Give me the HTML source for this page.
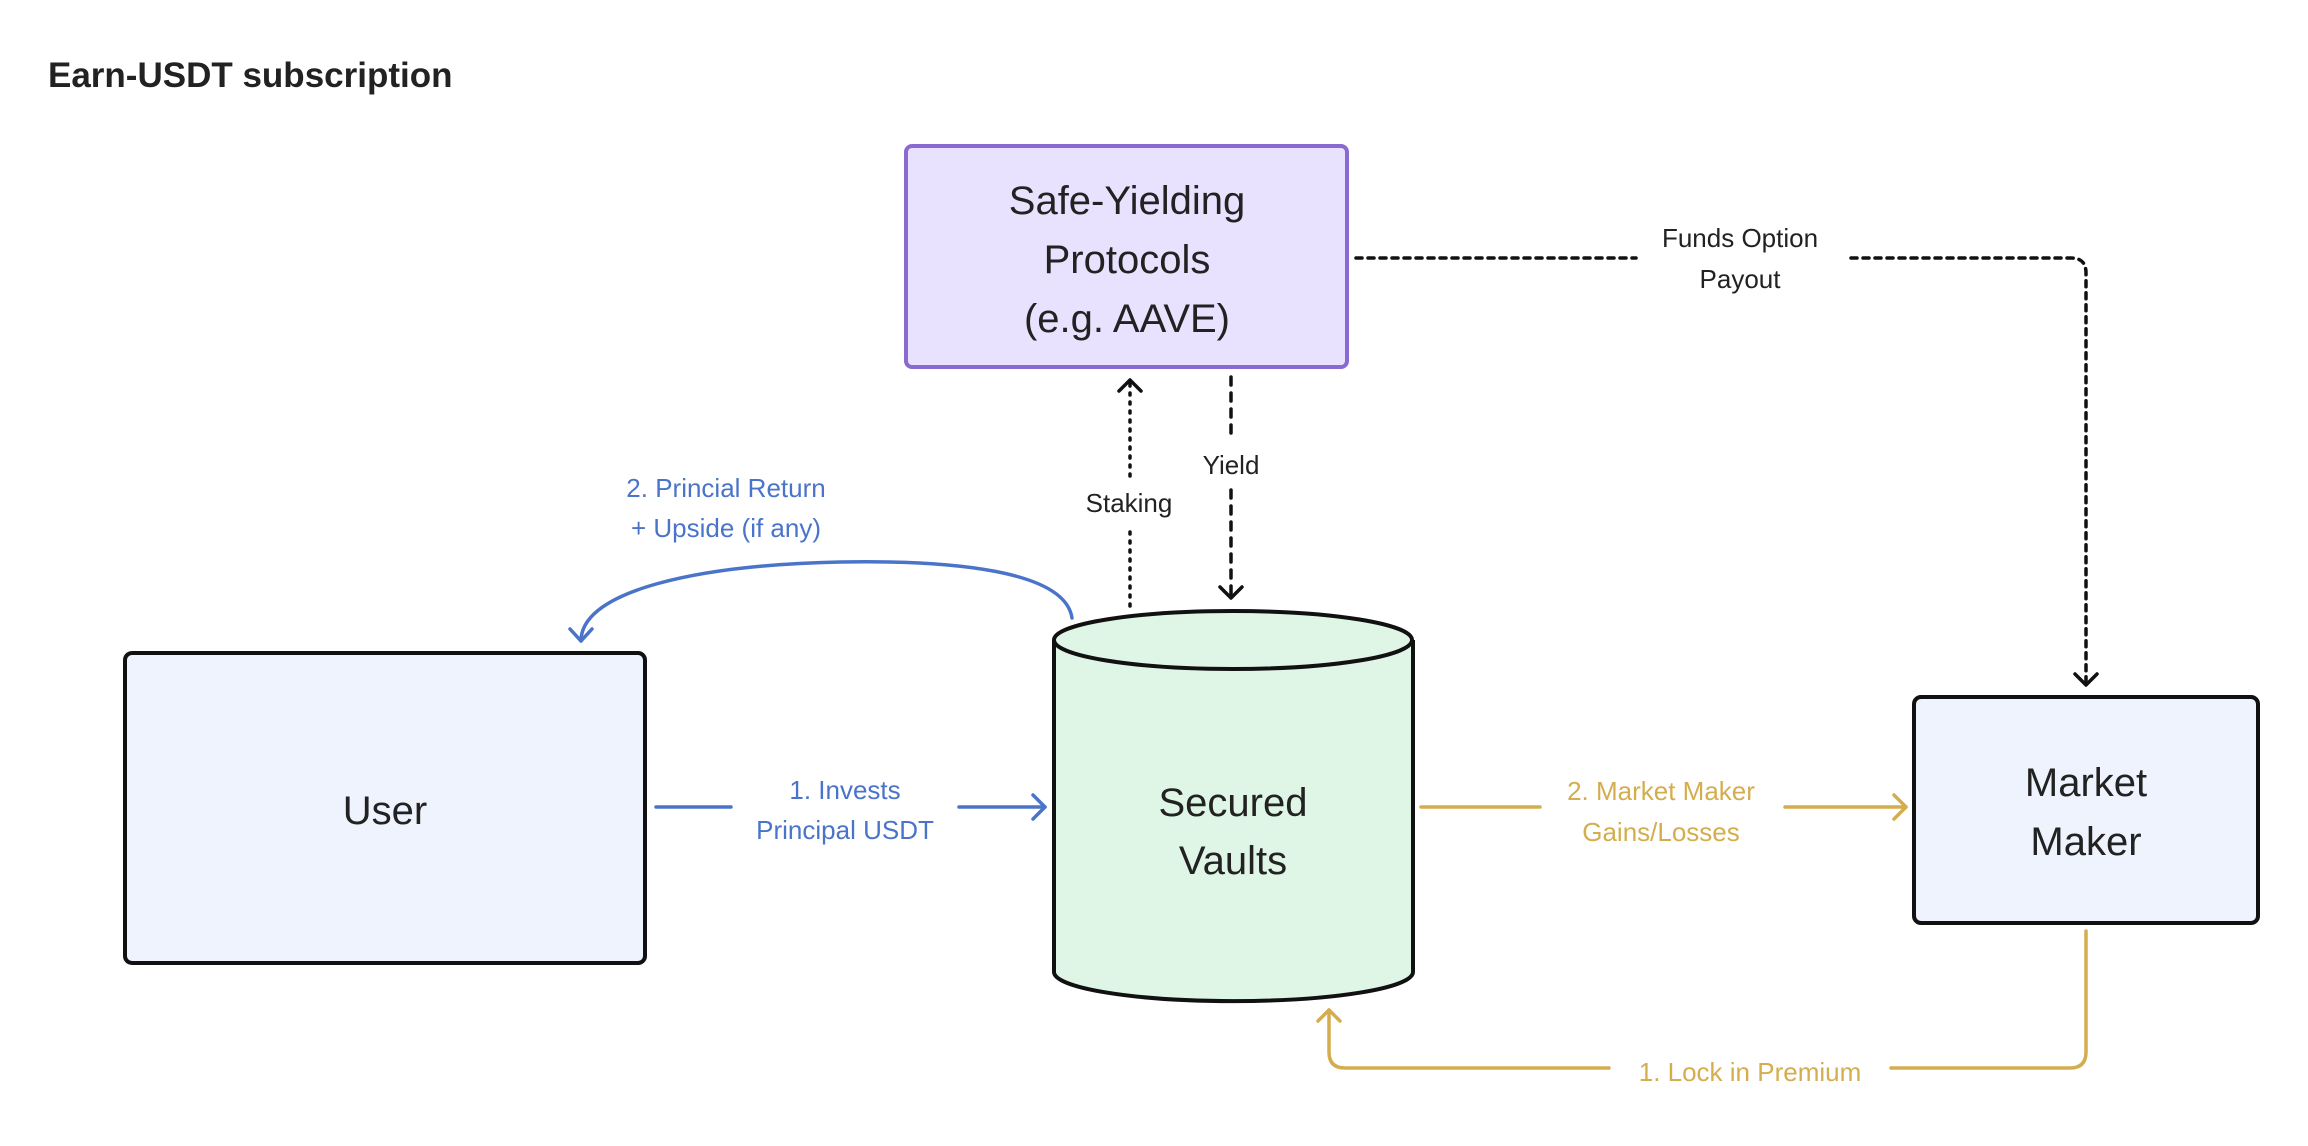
<!DOCTYPE html>
<html><head><meta charset="utf-8"><style>
html,body{margin:0;padding:0;background:#fff;}
svg{display:block;}
text{font-family:"Liberation Sans",sans-serif;}
</style></head><body>
<svg width="2308" height="1146" viewBox="0 0 2308 1146" xmlns="http://www.w3.org/2000/svg">
<text x="48" y="87" font-size="35" font-weight="bold" fill="#222">Earn-USDT subscription</text>

<rect x="906" y="146" width="441" height="221" rx="6" fill="#e9e2ff" stroke="#8a6ad0" stroke-width="4"/>
<text x="1127" y="214" font-size="40" text-anchor="middle" fill="#222">Safe-Yielding</text>
<text x="1127" y="273" font-size="40" text-anchor="middle" fill="#222">Protocols</text>
<text x="1127" y="332" font-size="40" text-anchor="middle" fill="#222">(e.g. AAVE)</text>

<rect x="125" y="653" width="520" height="310" rx="7" fill="#eef3fd" stroke="#111" stroke-width="4"/>
<text x="385" y="824" font-size="40" text-anchor="middle" fill="#222">User</text>

<path d="M1054 640 L1054 972 A179 29 0 0 0 1413 972 L1413 640" fill="#dff5e6" stroke="#111" stroke-width="4"/>
<ellipse cx="1233" cy="640" rx="179" ry="29" fill="#dff5e6" stroke="#111" stroke-width="4"/>
<text x="1233" y="816" font-size="40" text-anchor="middle" fill="#222">Secured</text>
<text x="1233" y="874" font-size="40" text-anchor="middle" fill="#222">Vaults</text>

<rect x="1914" y="697" width="344" height="226" rx="7" fill="#eef3fd" stroke="#111" stroke-width="4"/>
<text x="2086" y="796" font-size="40" text-anchor="middle" fill="#222">Market</text>
<text x="2086" y="855" font-size="40" text-anchor="middle" fill="#222">Maker</text>

<g fill="none" stroke-width="3.5" stroke-linecap="round" stroke-linejoin="round">
<path d="M656 807 H731 M959 807 H1045" stroke="#4a74c9"/>
<path d="M1033 795 L1045 807 L1033 819" stroke="#4a74c9"/>
<path d="M1072 618 C1065 570 950 560 840 562 C700 565 581 590 581 641" stroke="#4a74c9"/>
<path d="M570 629 L581 641 L592 629" stroke="#4a74c9"/>
<path d="M1130 606 V532 M1130 476 V380" stroke="#111" stroke-dasharray="2 7"/>
<path d="M1119 391 L1130 380 L1141 391" stroke="#111"/>
<path d="M1231 377 V440 M1231 490 V598" stroke="#111" stroke-dasharray="8 8"/>
<path d="M1220 587 L1231 598 L1242 587" stroke="#111"/>
<path d="M1356 258 H1636 M1851 258 H2071 Q2086 258 2086 273 V685" stroke="#111" stroke-dasharray="6 6"/>
<path d="M2075 674 L2086 685 L2097 674" stroke="#111"/>
<path d="M1421 807 H1540 M1785 807 H1906" stroke="#d4ae4e"/>
<path d="M1894 795 L1906 807 L1894 819" stroke="#d4ae4e"/>
<path d="M2086 931 V1052 Q2086 1068 2070 1068 H1891 M1609 1068 H1345 Q1329 1068 1329 1052 V1010" stroke="#d4ae4e"/>
<path d="M1318 1021 L1329 1010 L1340 1021" stroke="#d4ae4e"/>
</g>

<g font-size="26" text-anchor="middle">
<text x="845" y="799" fill="#4a74c9">1. Invests</text>
<text x="845" y="839" fill="#4a74c9">Principal USDT</text>
<text x="726" y="497" fill="#4a74c9">2. Princial Return</text>
<text x="726" y="537" fill="#4a74c9">+ Upside (if any)</text>
<text x="1129" y="512" fill="#222">Staking</text>
<text x="1231" y="474" fill="#222">Yield</text>
<text x="1740" y="247" fill="#222">Funds Option</text>
<text x="1740" y="288" fill="#222">Payout</text>
<text x="1661" y="800" fill="#d4ae4e">2. Market Maker</text>
<text x="1661" y="841" fill="#d4ae4e">Gains/Losses</text>
<text x="1750" y="1081" fill="#d4ae4e">1. Lock in Premium</text>
</g>
</svg>
</body></html>
